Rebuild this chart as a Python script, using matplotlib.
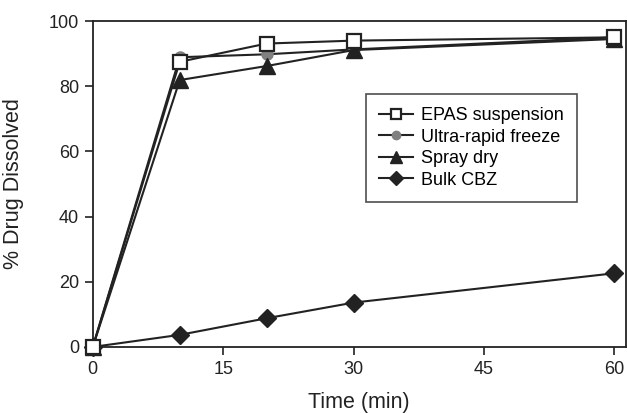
import numpy as np
import matplotlib
matplotlib.use("Agg")
import matplotlib.pyplot as plt

plt.rcParams['font.family'] = ['Liberation Sans', 'DejaVu Sans']

# data
time = [0, 10, 20, 30, 60]
epas = [0, 87.5, 93.1, 94.0, 95.0]
urf = [0, 88.9, 89.8, 91.3, 95.0]
spray = [0, 81.9, 86.2, 91.1, 94.5]
bulk = [0, 3.7, 8.8, 13.6, 22.6]

dark = '#222222'

fig = plt.figure(figsize=(6.27, 4.13), dpi=100)
ax = fig.add_axes([0.148, 0.160, 0.850, 0.789])

ax.plot(time, epas, color=dark, lw=1.5, marker='s', ms=10.5, mfc='white',
        mec=dark, mew=1.6, label='EPAS suspension', zorder=4, clip_on=False)
ax.plot(time, urf, color=dark, lw=1.5, marker='o', ms=8, mfc='#808080',
        mec='#808080', label='Ultra-rapid freeze', zorder=3, clip_on=False)
ax.plot(time, spray, color=dark, lw=1.5, marker='^', ms=12, mfc=dark,
        mec=dark, label='Spray dry', zorder=3, clip_on=False)
ax.plot(time, bulk, color=dark, lw=1.5, marker='D', ms=9, mfc=dark,
        mec=dark, label='Bulk CBZ', zorder=3, clip_on=False)

ax.set_xlim(0, 61.3)
ax.set_ylim(0, 100)
ax.set_xticks([0, 15, 30, 45, 60])
ax.set_yticks([0, 20, 40, 60, 80, 100])
ax.tick_params(direction='out', length=6, width=1.2, labelsize=13,
               colors=dark, pad=4)
for s in ax.spines.values():
    s.set_color(dark)
    s.set_linewidth(1.3)

ax.set_xlabel('Time (min)', fontsize=15.5, color=dark, labelpad=10)
ax.set_ylabel('% Drug Dissolved', fontsize=15.5, color=dark, labelpad=18)

leg = ax.legend(loc='upper left', bbox_to_anchor=(0.495, 0.805), fontsize=13,
                frameon=True, fancybox=False, edgecolor=dark, markerscale=0.75,
                handlelength=1.9, borderpad=0.75, labelspacing=0.25,
                handletextpad=0.4)
leg.get_frame().set_linewidth(1.2)

fig.savefig('out.png', dpi=100)
